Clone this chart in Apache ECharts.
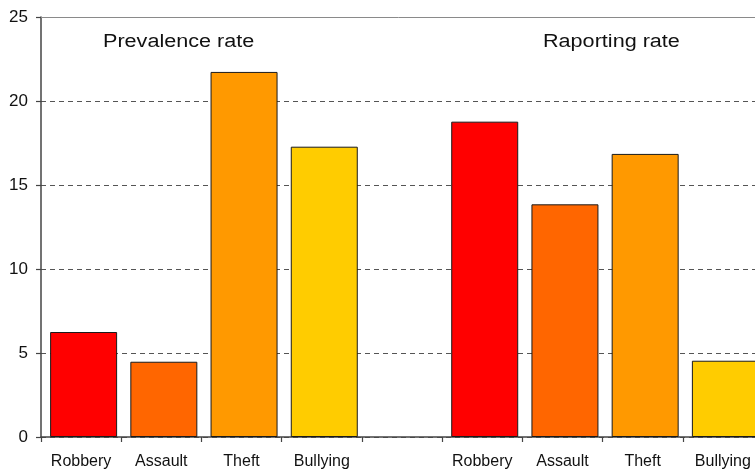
<!DOCTYPE html>
<html>
<head>
<meta charset="utf-8">
<script src="https://cdn.jsdelivr.net/npm/echarts@6/dist/echarts.min.js"></script>
<style>
  html, body { margin: 0; padding: 0; background: #fff; }
  #chart { width: 755px; height: 474px; }
</style>
</head>
<body>
<div id="chart"></div>
<script>
// Crime categories, repeated for each of the two panels with an empty gap between them
const crimeTypes = ['Robbery', 'Assault', 'Theft', 'Bullying'];
const categories = [...crimeTypes, '', ...crimeTypes];

// Rates (%) per crime type
const prevalenceRate = [6.25, 4.48, 21.73, 17.28];
const reportingRate = [18.77, 13.85, 16.85, 4.54];

// Fill colour for each crime type
const crimeColors = ['#FF0000', '#FF6600', '#FF9900', '#FFCC00'];

// Panel headings
const panelTitles = ['Prevalence rate', 'Raporting rate'];

// y-axis scale
const yMin = 0, yMax = 25, yStep = 5;

const makeItem = (v, i) => ({
  value: v,
  itemStyle: { color: crimeColors[i], borderColor: '#1a1a1a', borderWidth: 1 }
});
const barData = [
  ...prevalenceRate.map(makeItem),
  null,
  ...reportingRate.map(makeItem)
];

const FONT = '"Liberation Sans", Arial, sans-serif';
const chart = echarts.init(document.getElementById('chart'), null, { renderer: 'canvas' });

// The plot runs past the right edge of the canvas, so the grids must not be
// squeezed back inside the container.
chart.setOption({
  animation: false,
  backgroundColor: '#ffffff',
  grid: [
    { left: 41, top: 17, width: 722, height: 420, outerBoundsMode: 'none', containLabel: false },
    { left: 43.5, top: 17, width: 722, height: 420, outerBoundsMode: 'none', containLabel: false }
  ],
  xAxis: [
    {
      type: 'category', gridIndex: 0, data: categories, position: 'bottom',
      axisLine: { lineStyle: { color: '#444', width: 1.5 } },
      axisTick: { show: true, length: 5, lineStyle: { color: '#444', width: 1.2 } },
      axisLabel: { color: '#111', fontFamily: FONT, fontSize: 16, margin: 17, interval: 0 },
      splitLine: { show: false }
    },
    {
      type: 'category', gridIndex: 1, data: categories,
      show: false
    },
    {
      type: 'category', gridIndex: 0, data: categories, position: 'top',
      axisLine: { lineStyle: { color: '#8a8a8a', width: 1 } },
      axisTick: { show: false }, axisLabel: { show: false }
    }
  ],
  yAxis: [
    {
      type: 'value', gridIndex: 0, min: yMin, max: yMax, interval: yStep,
      axisLine: { show: true, lineStyle: { color: '#444', width: 1.5 } },
      axisTick: { show: true, length: 5, lineStyle: { color: '#444', width: 1.2 } },
      axisLabel: { color: '#111', fontFamily: FONT, fontSize: 17, margin: 13 },
      splitLine: {
        show: true,
        lineStyle: { color: '#555', width: 1, type: [5, 4] }
      }
    },
    {
      type: 'value', gridIndex: 1, min: yMin, max: yMax, interval: yStep,
      show: false, splitLine: { show: false }
    }
  ],
  series: [
    {
      type: 'bar', xAxisIndex: 1, yAxisIndex: 1,
      data: barData, barWidth: 67, z: 3
    }
  ],
  graphic: [
    {
      type: 'text', left: 103, top: 33, scaleX: 1.2,
      style: { text: panelTitles[0], fill: '#111', font: '18px ' + FONT }
    },
    {
      type: 'text', left: 543, top: 33, scaleX: 1.2,
      style: { text: panelTitles[1], fill: '#111', font: '18px ' + FONT }
    }
  ]
});
</script>
</body>
</html>
